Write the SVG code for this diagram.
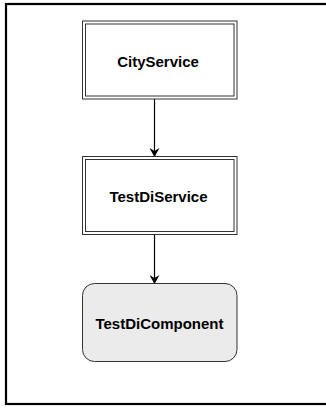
<svg xmlns="http://www.w3.org/2000/svg" width="326" height="409" viewBox="0 0 326 409">
<defs>
<style>
.box{fill:#ffffff;stroke:#333333;stroke-width:1}
.lbl{font-family:"Liberation Sans",Arial,sans-serif;font-weight:bold;font-size:15px;fill:#000000;text-anchor:middle}
.conn{stroke:#000000;stroke-width:1.2;fill:none}
</style>
<marker id="arr" markerWidth="10" markerHeight="10" refX="9" refY="5" orient="auto" markerUnits="userSpaceOnUse">
<path d="M0,0 L9,5 L0,10 L3,5 Z" fill="#000000"/>
</marker>
</defs>
<rect width="326" height="409" fill="#ffffff"/>
<rect x="6" y="4" width="330" height="400" fill="none" stroke="#000000" stroke-width="2.2"/>
<g id="connectors">
<line class="conn" x1="154.5" y1="99" x2="154.5" y2="157" marker-end="url(#arr)"/>
<line class="conn" x1="154.5" y1="234.5" x2="154.5" y2="284" marker-end="url(#arr)"/>
</g>
<g id="CityService">
<rect class="box" x="82.5" y="21" width="154.5" height="78"/>
<rect class="box" x="85.5" y="24" width="148.5" height="72"/>
<text class="lbl" x="158" y="66.5">CityService</text>
</g>
<g id="TestDiService">
<rect class="box" x="82.5" y="156.5" width="154.5" height="78"/>
<rect class="box" x="85.5" y="159.5" width="148.5" height="72"/>
<text class="lbl" x="158.5" y="201.5">TestDiService</text>
</g>
<g id="TestDiComponent">
<rect x="82.5" y="283.5" width="154.5" height="78" rx="12" ry="12" fill="#ebebeb" stroke="#333333" stroke-width="1"/>
<text class="lbl" x="159.5" y="328.5">TestDiComponent</text>
</g>
</svg>
